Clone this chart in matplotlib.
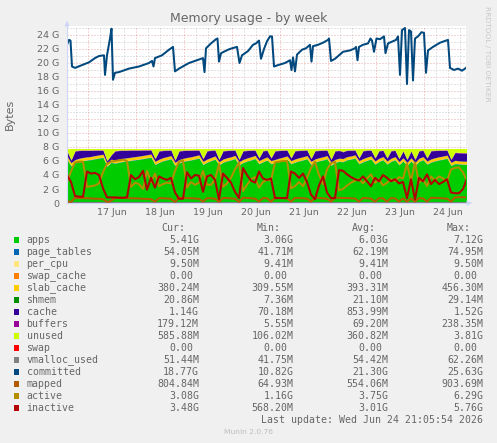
import numpy as np
import matplotlib
matplotlib.use("Agg")
import matplotlib.pyplot as plt
from matplotlib.patches import Polygon, Rectangle

# ---------------- data (GB, hours since 16 Jun 00:00) ----------------
mem_total = 7.78
page_tables_gb = 0.054
per_cpu_gb = 0.0095
swap_cache_gb = 0.0
slab_cache_gb = 0.39
shmem_gb = 0.021
buffers_gb = 0.07
swap_gb = 0.0
vmalloc_gb = 0.054

stack_hours = np.arange(13.5, 214, 2)

cache = [0.70, 0.35, 1.20, 1.10, 1.00, 0.92, 0.85, 0.75, 0.65, 0.55,
         0.30, 0.55, 1.25, 1.20, 1.12, 1.05, 0.98, 0.90, 0.82, 0.74,
         0.65, 0.55, 0.35, 1.15, 1.00, 0.88, 0.75, 0.30, 1.20, 1.10,
         1.00, 0.90, 0.78, 0.65, 0.35, 1.15, 1.00, 0.80, 0.30, 1.15,
         1.02, 0.90, 0.72, 0.30, 1.20, 1.05, 0.90, 0.72, 0.35, 1.10,
         0.92, 0.35, 1.20, 1.08, 0.95, 0.80, 0.35, 1.15, 1.02, 0.90,
         0.75, 0.35, 1.15, 1.02, 0.90, 0.75, 0.35, 1.20, 1.08, 0.95,
         0.88, 0.78, 0.65, 0.35, 1.10, 0.95, 0.80, 0.40, 1.05, 0.88,
         0.40, 1.05, 0.88, 0.40, 0.95, 0.40, 0.95, 0.40, 1.05, 0.88,
         0.40, 1.15, 1.02, 0.90, 0.80, 0.68, 0.40, 1.10, 1.12, 1.14,
         1.14]

unused = [0.30, 1.60, 0.30, 0.22, 0.20, 0.20, 0.20, 0.18, 0.18, 0.18,
          1.70, 0.90, 0.30, 0.22, 0.20, 0.20, 0.18, 0.18, 0.18, 0.17,
          0.16, 0.16, 1.40, 0.30, 0.22, 0.20, 0.18, 1.60, 0.30, 0.22,
          0.20, 0.20, 0.18, 0.18, 1.40, 0.28, 0.20, 0.18, 1.50, 0.28,
          0.22, 0.20, 0.18, 1.50, 0.28, 0.22, 0.20, 0.18, 1.30, 0.26,
          0.20, 1.30, 0.28, 0.22, 0.20, 0.18, 1.30, 0.26, 0.22, 0.20,
          0.18, 1.40, 0.26, 0.22, 0.20, 0.18, 1.50, 0.28, 0.22, 0.40,
          0.20, 0.20, 0.18, 1.30, 0.26, 0.20, 0.18, 1.30, 0.26, 0.20,
          1.30, 0.26, 0.20, 1.40, 0.30, 1.50, 0.30, 1.50, 0.26, 0.20,
          1.30, 0.26, 0.22, 0.20, 0.20, 0.18, 1.50, 0.50, 0.56, 0.58,
          0.59]

inactive = [4.0, 3.0, 1.0, 0.9, 0.9, 4.5, 4.2, 4.3, 4.0, 2.1,
            0.8, 0.8, 0.8, 0.75, 0.75, 0.8, 4.0, 3.4, 3.7, 4.6,
            1.9, 3.6, 2.2, 3.8, 3.5, 3.3, 3.6, 1.5, 0.6, 0.6,
            4.4, 3.5, 4.0, 3.9, 1.6, 3.8, 4.0, 3.3, 0.5, 4.2,
            3.6, 2.9, 1.6, 0.7, 5.0, 4.0, 3.2, 2.9, 4.5, 3.5,
            3.3, 3.5, 0.7, 0.7, 0.7, 0.7, 4.5, 4.2, 3.6, 4.2,
            3.0, 1.2, 0.55, 2.5, 3.8, 1.5, 0.7, 0.7, 4.7, 4.6,
            4.1, 3.7, 3.4, 3.2, 3.8, 3.1, 2.4, 3.6, 3.1, 4.0,
            3.6, 3.1, 3.4, 2.8, 3.0, 0.7, 3.4, 0.5, 3.6, 3.1,
            4.1, 2.7, 3.3, 2.7, 3.0, 3.4, 1.5, 1.4, 1.4, 2.0,
            3.5]

active = [3.0, 4.5, 5.8, 5.9, 5.9, 2.3, 2.4, 2.5, 2.8, 4.4,
          5.6, 5.9, 6.0, 6.1, 6.2, 6.0, 2.3, 2.9, 2.7, 2.0,
          4.6, 3.0, 4.2, 2.4, 2.7, 2.9, 2.8, 4.6, 5.9, 6.1,
          2.2, 3.0, 2.6, 2.9, 4.6, 2.6, 2.6, 3.3, 5.6, 2.3,
          2.8, 3.6, 4.8, 5.8, 1.7, 2.6, 3.4, 3.7, 2.2, 3.0,
          3.3, 3.2, 5.8, 5.9, 6.0, 6.0, 2.1, 2.4, 3.0, 2.4,
          3.6, 5.0, 5.9, 4.0, 2.7, 4.8, 5.7, 5.9, 1.8, 2.0,
          2.5, 2.9, 3.2, 3.4, 2.8, 3.5, 4.1, 2.9, 3.4, 2.5,
          2.9, 3.4, 3.1, 3.7, 3.5, 5.6, 3.1, 5.8, 2.9, 3.4,
          2.4, 3.8, 3.2, 3.8, 3.5, 3.1, 4.8, 5.0, 5.1, 4.4,
          3.1]

mapped = [0.25, 0.15, 0.75, 0.72, 0.70, 0.68, 0.65, 0.62, 0.60, 0.55,
          0.15, 0.30, 0.75, 0.74, 0.72, 0.70, 0.68, 0.66, 0.64, 0.60,
          0.58, 0.55, 0.20, 0.70, 0.68, 0.65, 0.60, 0.15, 0.75, 0.72,
          0.70, 0.68, 0.65, 0.60, 0.20, 0.70, 0.68, 0.62, 0.15, 0.72,
          0.70, 0.66, 0.60, 0.15, 0.75, 0.72, 0.68, 0.62, 0.20, 0.72,
          0.68, 0.20, 0.75, 0.73, 0.70, 0.66, 0.20, 0.74, 0.70, 0.68,
          0.62, 0.20, 0.75, 0.72, 0.68, 0.60, 0.20, 0.75, 0.74, 0.72,
          0.70, 0.68, 0.64, 0.20, 0.72, 0.68, 0.62, 0.20, 0.70, 0.66,
          0.20, 0.70, 0.66, 0.20, 0.65, 0.20, 0.65, 0.20, 0.70, 0.66,
          0.20, 0.74, 0.72, 0.70, 0.66, 0.62, 0.20, 0.80, 0.82, 0.82,
          0.80]

committed_hours = [13.5, 14.5, 15.25, 16, 17.5, 21, 24.5, 27.5, 29.5, 32,
                   32.5, 33.5, 35, 35.75, 36.5, 37.5, 39.5, 44.5, 49.5, 54.5,
                   56, 56.75, 57.5, 61, 64.5, 66.5, 67.5, 69.5, 74.5, 79.5,
                   81.5, 82.25, 83, 85.5, 88, 88.75, 89.5, 90.5, 94, 96,
                   98.5, 99.75, 101, 104, 106.5, 108, 109.5, 110.5, 112, 113.5,
                   115, 116, 117, 119, 122.5, 125, 125.75, 126.5, 127.5, 128.5,
                   131, 133, 135, 135.75, 136.5, 139, 141.5, 144, 144.5, 145.5,
                   147.5, 151.5, 155, 157.5, 158, 158.75, 159.5, 161.5, 164, 165.25,
                   166, 167, 168.25, 170, 172, 172.75, 174, 178, 179, 180,
                   181, 182.5, 183.5, 184.5, 185.5, 186.5, 187.5, 189, 190.75, 192,
                   193, 194, 196.5, 200, 203, 204, 205, 207, 209, 211,
                   213]
committed = [22.6, 23.3, 23.2, 19.5, 19.3, 19.7, 20.1, 20.7, 21.0, 21.1,
             18.3, 21.1, 23.5, 24.9, 17.6, 18.6, 18.7, 19.2, 19.5, 20.0,
             20.3, 19.5, 20.7, 21.1, 21.9, 22.3, 18.8, 19.2, 20.0, 20.5,
             20.7, 18.7, 22.1, 22.8, 23.4, 23.5, 20.2, 21.4, 21.9, 22.1,
             22.3, 20.0, 21.1, 21.7, 22.6, 22.8, 23.2, 20.6, 22.0, 23.1,
             23.8, 23.8, 19.5, 19.7, 20.0, 20.4, 19.0, 20.8, 18.8, 21.2,
             21.9, 22.1, 22.6, 20.2, 22.4, 22.6, 22.9, 23.3, 23.5, 20.3,
             20.6, 21.6, 21.8, 22.1, 22.3, 20.4, 22.3, 22.6, 22.8, 23.5,
             23.2, 21.6, 23.5, 23.4, 23.8, 21.4, 22.8, 23.3, 23.8, 18.3,
             24.7, 25.0, 17.0, 24.7, 24.5, 17.5, 23.5, 23.8, 24.4, 24.3,
             18.6, 21.8, 22.3, 22.9, 23.2, 23.3, 19.3, 19.0, 19.2, 18.9,
             19.3]

ytick_vals = [0, 2, 4, 6, 8, 10, 12, 14, 16, 18, 20, 22, 24]
ytick_labels = ["0", "2 G", "4 G", "6 G", "8 G", "10 G", "12 G", "14 G",
                "16 G", "18 G", "20 G", "22 G", "24 G"]
xtick_hours = [36, 60, 84, 108, 132, 156, 180, 204]
xtick_labels = ["17 Jun", "18 Jun", "19 Jun", "20 Jun", "21 Jun", "22 Jun",
                "23 Jun", "24 Jun"]

legend_names = ["apps", "page_tables", "per_cpu", "swap_cache", "slab_cache",
                "shmem", "cache", "buffers", "unused", "swap", "vmalloc_used",
                "committed", "mapped", "active", "inactive"]
legend_colors = ["#00CC00", "#0066B3", "#FFE680", "#FF8000", "#FFCC00",
                 "#008F00", "#330099", "#990099", "#CCFF00", "#FF0000",
                 "#808080", "#00487D", "#B35A00", "#B38F00", "#B30000"]
cur_vals = ["5.41G", "54.05M", "9.50M", "0.00", "380.24M", "20.86M", "1.14G",
            "179.12M", "585.88M", "0.00", "51.44M", "18.77G", "804.84M",
            "3.08G", "3.48G"]
min_vals = ["3.06G", "41.71M", "9.41M", "0.00", "309.55M", "7.36M", "70.18M",
            "5.55M", "106.02M", "0.00", "41.75M", "10.82G", "64.93M",
            "1.16G", "568.20M"]
avg_vals = ["6.03G", "62.19M", "9.41M", "0.00", "393.31M", "21.10M", "853.99M",
            "69.20M", "360.82M", "0.00", "54.42M", "21.30G", "554.06M",
            "3.75G", "3.01G"]
max_vals = ["7.12G", "74.95M", "9.50M", "0.00", "456.30M", "29.14M", "1.52G",
            "238.35M", "3.81G", "0.00", "62.26M", "25.63G", "903.69M",
            "6.29G", "5.76G"]

# ---------------- figure ----------------
W, H = 497, 443
fig = plt.figure(figsize=(W / 100, H / 100), dpi=100)
fig.patch.set_facecolor("#F0F0F0")
FONT = "#666666"

PL, PR, PB, PT = 67, 466, 203, 25.9
YMAX = 25.3
ax = fig.add_axes([PL / W, 1 - PB / H, (PR - PL) / W, (PB - PT) / H])
ax.set_facecolor("white")
ax.set_xlim(13.5, 213)
ax.set_ylim(0, YMAX)

# grid
dots = (0, (1, 2))
for g in range(1, 26):
    c = "#E8A8A8" if g % 2 == 0 else "#C8C8C8"
    ax.axhline(g, color=c, lw=0.72, ls=dots, zorder=0)
for h in range(18, 214, 6):
    c = "#E8A8A8" if h % 24 == 0 else "#C8C8C8"
    ax.axvline(h, color=c, lw=0.72, ls=dots, zorder=0)

# stacked areas (apps is the remainder of MemTotal, as the munin plugin does)
cache_a = np.array(cache)
unused_a = np.array(unused)
n = len(stack_hours)
apps = mem_total - (page_tables_gb + per_cpu_gb + swap_cache_gb + slab_cache_gb
                    + shmem_gb + cache_a + buffers_gb + unused_a + swap_gb)
layers = [apps, np.full(n, page_tables_gb), np.full(n, per_cpu_gb),
          np.full(n, swap_cache_gb), np.full(n, slab_cache_gb),
          np.full(n, shmem_gb), cache_a, np.full(n, buffers_gb), unused_a,
          np.full(n, swap_gb)]
base = np.zeros(n)
for vals, col in zip(layers, legend_colors[:10]):
    top = base + vals
    ax.fill_between(stack_hours, base, top, color=col, lw=0, zorder=2)
    base = top

# lines
lw2 = 1.45
ax.plot(stack_hours, np.full(n, vmalloc_gb), color="#808080", lw=lw2, zorder=3)
ax.plot(committed_hours, committed, color="#00487D", lw=lw2, zorder=3)
ax.plot(stack_hours, mapped, color="#B35A00", lw=lw2, zorder=3)
ax.plot(stack_hours, active, color="#B38F00", lw=lw2, zorder=3)
ax.plot(stack_hours, inactive, color="#B30000", lw=lw2, zorder=3)

# axes
for s in ["top", "right"]:
    ax.spines[s].set_visible(False)
for s in ["left", "bottom"]:
    ax.spines[s].set_color("#CFD6F8")
    ax.spines[s].set_linewidth(0.8)
    ax.spines[s].set_zorder(4)
ax.set_yticks(ytick_vals)
ax.set_yticklabels(ytick_labels)
ax.set_xticks(xtick_hours)
ax.set_xticklabels(xtick_labels)
ax.tick_params(axis="both", length=0, labelsize=6.8, labelcolor=FONT)
ax.tick_params(axis="y", pad=5.4)
ax.tick_params(axis="x", pad=3.4)

def fxy(x, y):
    return x / W, 1 - y / H

# arrows
fig.patches.append(Polygon([fxy(64.3, 26.5), fxy(69.7, 26.5), fxy(67, 20.5)],
                           closed=True, transform=fig.transFigure,
                           facecolor="#CFD6F8", edgecolor="none"))
fig.patches.append(Polygon([fxy(466.5, 200.3), fxy(466.5, 205.7), fxy(472.5, 203)],
                           closed=True, transform=fig.transFigure,
                           facecolor="#CFD6F8", edgecolor="none"))

# texts
fig.text(*fxy(248.5, 18.5), "Memory usage - by week", ha="center", va="center",
         fontsize=9, color=FONT)
fig.text(*fxy(10, 114), "Bytes", rotation=90, ha="center", va="center",
         fontsize=8, color=FONT)
fig.text(*fxy(487.5, 53.5), "RRDTOOL / TOBI OETIKER", rotation=270,
         ha="center", va="center", fontsize=5.4, color="#C8C8C8")

mono = "DejaVu Sans Mono"
fs = 7.1
cw = 0.602 * fs * 100 / 72
col_right = [199, 293.3, 388.3, 483.3]
hdr_right = [185.7, 280.7, 375.7, 470.2]
for hx, hs in zip(hdr_right, ["Cur:", "Min:", "Avg:", "Max:"]):
    fig.text(*fxy(hx, 228.3), hs, ha="right", va="center", family=mono,
             fontsize=fs, color=FONT)
for i, name in enumerate(legend_names):
    y = 240 + 12 * i
    fig.patches.append(Rectangle(fxy(14, y + 2.7), 5.4 / W, 5.4 / H,
                                 transform=fig.transFigure,
                                 facecolor=legend_colors[i], edgecolor="none"))
    fig.text(*fxy(26.5, y), name, ha="left", va="center", family=mono,
             fontsize=fs, color=FONT)
    for xr, vals in zip(col_right, [cur_vals, min_vals, avg_vals, max_vals]):
        v = vals[i]
        xx = xr if v[-1].isalpha() else xr - cw
        fig.text(*fxy(xx, y), v, ha="right", va="center", family=mono,
                 fontsize=fs, color=FONT)
fig.text(*fxy(483.3, 419.7), "Last update: Wed Jun 24 21:05:54 2026",
         ha="right", va="center", family=mono, fontsize=fs, color=FONT)
fig.text(*fxy(248, 432), "Munin 2.0.76", ha="center", va="center",
         fontsize=5.4, color="#BDBDBD")

fig.savefig("out.png", dpi=100, facecolor=fig.get_facecolor())
